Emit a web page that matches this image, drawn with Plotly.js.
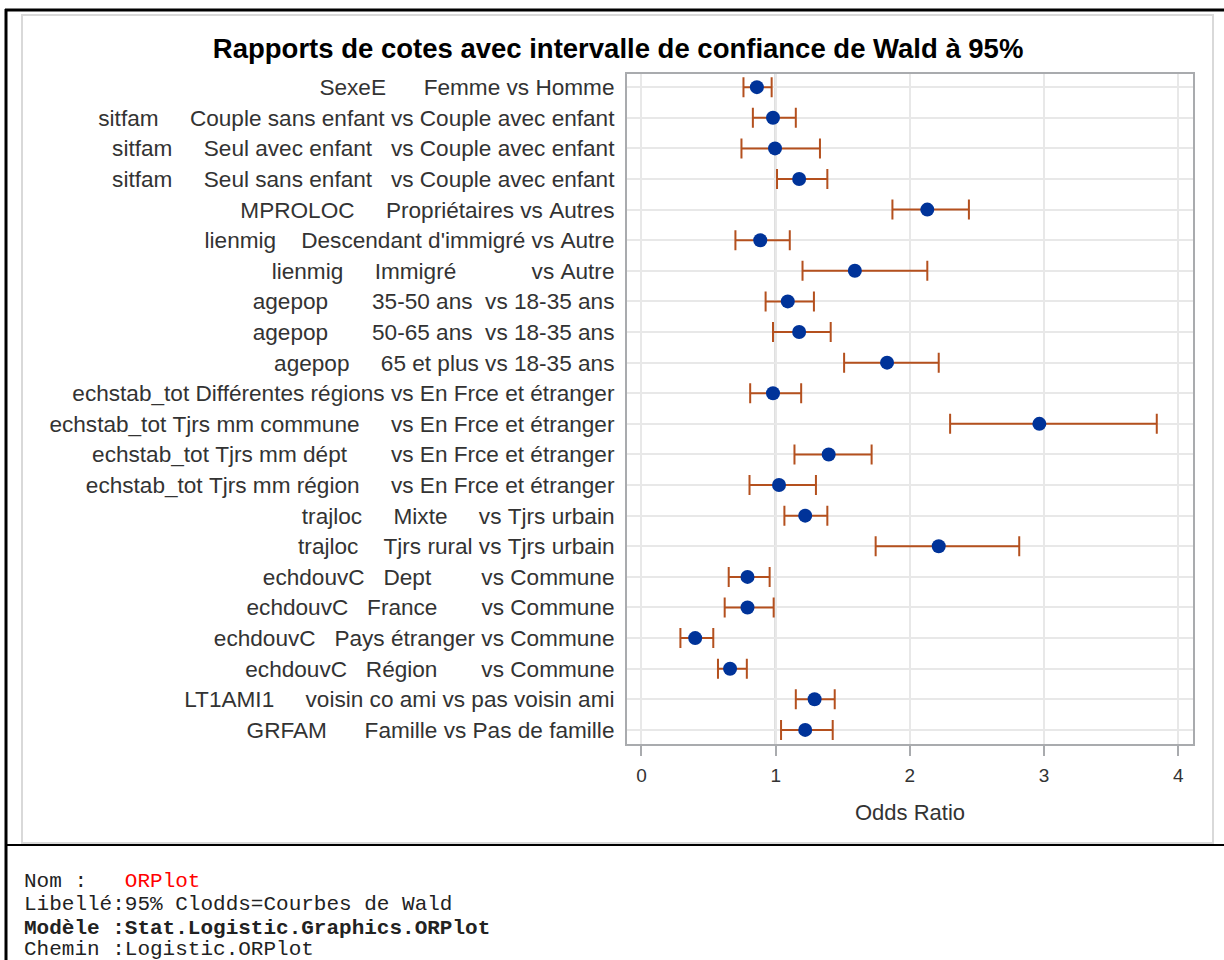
<!DOCTYPE html>
<html>
<head>
<meta charset="utf-8">
<script src="https://cdn.plot.ly/plotly-3.0.1.min.js"></script>
<style>
html,body{margin:0;padding:0;background:#fff;}
#chart{width:1224px;height:960px;}
</style>
</head>
<body>
<div id="chart"></div>
<script>
// ---- data ----
const labels = [
  "SexeE      Femme vs Homme",
  "sitfam     Couple sans enfant vs Couple avec enfant",
  "sitfam     Seul avec enfant   vs Couple avec enfant",
  "sitfam     Seul sans enfant   vs Couple avec enfant",
  "MPROLOC     Propriétaires vs Autres",
  "lienmig    Descendant d'immigré vs Autre",
  "lienmig     Immigré            vs Autre",
  "agepop       35-50 ans  vs 18-35 ans",
  "agepop       50-65 ans  vs 18-35 ans",
  "agepop     65 et plus vs 18-35 ans",
  "echstab_tot Différentes régions vs En Frce et étranger",
  "echstab_tot Tjrs mm commune     vs En Frce et étranger",
  "echstab_tot Tjrs mm dépt       vs En Frce et étranger",
  "echstab_tot Tjrs mm région     vs En Frce et étranger",
  "trajloc     Mixte     vs Tjrs urbain",
  "trajloc    Tjrs rural vs Tjrs urbain",
  "echdouvC   Dept        vs Commune",
  "echdouvC   France       vs Commune",
  "echdouvC   Pays étranger vs Commune",
  "echdouvC   Région       vs Commune",
  "LT1AMI1     voisin co ami vs pas voisin ami",
  "GRFAM      Famille vs Pas de famille"
];
const oddsRatio = [0.86, 0.98, 0.995, 1.175, 2.13, 0.885, 1.59, 1.09, 1.175, 1.83, 0.98,
                   2.965, 1.395, 1.025, 1.22, 2.215, 0.79, 0.79, 0.40, 0.66, 1.29, 1.22];
const lowerCL   = [0.76, 0.83, 0.745, 1.01, 1.87, 0.70, 1.20, 0.925, 0.98, 1.51, 0.81,
                   2.30, 1.14, 0.805, 1.065, 1.745, 0.65, 0.62, 0.29, 0.57, 1.15, 1.04];
const upperCL   = [0.97, 1.15, 1.33, 1.385, 2.44, 1.105, 2.13, 1.285, 1.41, 2.215, 1.19,
                   3.84, 1.715, 1.30, 1.385, 2.815, 0.955, 0.985, 0.535, 0.785, 1.44, 1.425];
const xTicks = [0, 1, 2, 3, 4];
const refValue = 1;
const titleText = "Rapports de cotes avec intervalle de confiance de Wald à 95%";
const xTitle = "Odds Ratio";
const footerLines = [
  "Nom :   <span style='color:#ff0000'>ORPlot</span>",
  "Libellé:95% Clodds=Courbes de Wald",
  "<b>Modèle :Stat.Logistic.Graphics.ORPlot</b>",
  "Chemin :Logistic.ORPlot"
];

// ---- layout geometry ----
const W = 1224, H = 960;
const M = {l: 627, r: W - 1193, t: 74, b: H - 744};
const pw = W - M.l - M.r, ph = H - M.t - M.b;
const px = x => (x - M.l) / pw;
const py = y => (H - M.b - y) / ph;

const nb = s => s.replace(/ /g, '\u00a0');
const cats = labels.map(nb);

const trace = {
  type: 'scatter',
  mode: 'markers',
  x: oddsRatio,
  y: cats,
  marker: {color: '#003399', size: 14},
  error_x: {
    type: 'data',
    symmetric: false,
    array: upperCL.map((u, i) => u - oddsRatio[i]),
    arrayminus: lowerCL.map((l, i) => oddsRatio[i] - l),
    color: '#B4501E',
    thickness: 2,
    width: 10
  },
  hoverinfo: 'x+y',
  showlegend: false
};

const footerY = [881, 904, 928, 949];
const annotations = footerLines.map((t, i) => ({
  text: nb(t).replace(/span\u00a0style/g, 'span style'),
  xref: 'paper', yref: 'paper',
  x: px(22), y: py(footerY[i]),
  xanchor: 'left', yanchor: 'middle',
  showarrow: false,
  font: {family: 'Liberation Mono, Courier New, monospace', size: 21, color: '#222'}
}));

const shapes = [
  // outer light frame of the graph
  {type: 'rect', xref: 'paper', yref: 'paper', x0: px(22), x1: px(1213), y0: py(15), y1: py(843),
   line: {color: '#D9D9D9', width: 2}, layer: 'below'},
  // black page borders
  {type: 'line', xref: 'paper', yref: 'paper', x0: px(5), x1: px(1224), y0: py(10), y1: py(10),
   line: {color: '#000', width: 3}},
  {type: 'line', xref: 'paper', yref: 'paper', x0: px(6), x1: px(6), y0: py(9), y1: py(960),
   line: {color: '#000', width: 3}},
  {type: 'line', xref: 'paper', yref: 'paper', x0: px(5), x1: px(1224), y0: py(845), y1: py(845),
   line: {color: '#000', width: 2}},
  // reference line at OR = 1
  {type: 'line', xref: 'x', yref: 'paper', x0: refValue, x1: refValue, y0: 0, y1: 1,
   line: {color: '#9C9C9C', width: 2}, layer: 'between'}
];

const layout = {
  width: W, height: H,
  margin: M,
  paper_bgcolor: '#fff',
  plot_bgcolor: '#fff',
  font: {family: 'Liberation Sans, Arial, sans-serif', color: '#333'},
  title: {
    text: '<b>' + titleText + '</b>',
    x: 0.505, xref: 'container', xanchor: 'center',
    y: 1 - 48 / H, yref: 'container', yanchor: 'middle',
    font: {family: 'Liberation Sans, Arial, sans-serif', size: 27.5, color: '#000'}
  },
  xaxis: {
    range: [-0.108, 4.11],
    tickvals: xTicks,
    ticktext: xTicks.map(String),
    ticks: 'outside', ticklen: 10, tickwidth: 2, tickcolor: '#A9ABAE',
    tickfont: {size: 19, color: '#333'},
    ticklabelstandoff: 3,
    showgrid: true, gridcolor: '#E8E8E8', gridwidth: 2,
    zeroline: false,
    showline: true, mirror: true, linecolor: '#A9ABAE', linewidth: 2,
    title: {text: xTitle, font: {size: 22, color: '#333'}, standoff: 20}
  },
  yaxis: {
    type: 'category',
    categoryorder: 'array', categoryarray: cats,
    range: [21.46, -0.43],
    ticks: '',
    ticklabelstandoff: 6,
    tickfont: {size: 22.6, color: '#333'},
    showgrid: true, gridcolor: '#E8E8E8', gridwidth: 2,
    zeroline: false,
    showline: true, mirror: true, linecolor: '#A9ABAE', linewidth: 2
  },
  shapes: shapes,
  annotations: annotations
};

Plotly.newPlot('chart', [trace], layout, {displayModeBar: false, staticPlot: true});
</script>
</body>
</html>
